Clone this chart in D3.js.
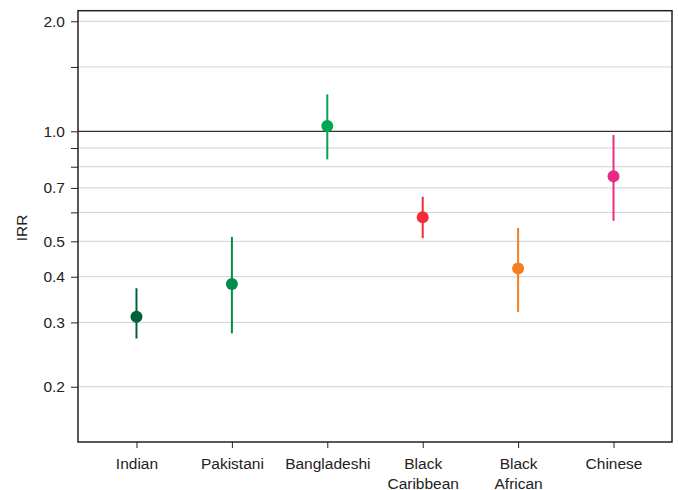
<!DOCTYPE html>
<html>
<head>
<meta charset="utf-8">
<script src="https://cdn.jsdelivr.net/npm/d3@7"></script>
<style>
  body { margin: 0; background: #fff; }
  svg { display: block; font-family: "Liberation Sans", Arial, sans-serif; }
</style>
</head>
<body>
<svg width="678" height="490"></svg>
<script>
const groups = ["Indian", "Pakistani", "Bangladeshi", "Black Caribbean", "Black African", "Chinese"];
const irr = [0.311, 0.382, 1.034, 0.582, 0.421, 0.753];
const lower = [0.271, 0.280, 0.838, 0.510, 0.320, 0.569];
const upper = [0.372, 0.514, 1.262, 0.662, 0.544, 0.977];
const colors = ["#00613a", "#008c4a", "#00a651", "#ee2e38", "#f47e20", "#ea2a84"];

const yTicks = [0.2, 0.3, 0.4, 0.5, 0.6, 0.7, 0.8, 0.9, 1.0, 1.5, 2.0];
const yLabelled = [0.2, 0.3, 0.4, 0.5, 0.7, 1.0, 2.0];

const plotLeft = 78, plotRight = 672, plotTop = 10.7, plotBottom = 442;
const fontSize = 15.5;

const svg = d3.select("svg");

const x = d3.scalePoint().domain(groups).range([plotLeft, plotRight]).padding(0.613);
const y = d3.scaleLog().domain([0.1412, 2.138]).range([plotBottom, plotTop]);

// grid lines
svg.append("g")
  .selectAll("line")
  .data(yTicks)
  .join("line")
  .attr("x1", plotLeft).attr("x2", plotRight)
  .attr("y1", d => y(d)).attr("y2", d => y(d))
  .attr("stroke", d => d === 1 ? "#333" : "#d2d2d2")
  .attr("stroke-width", d => d === 1 ? 1.3 : 1);

// y axis
const yAxis = d3.axisLeft(y)
  .tickValues(yTicks)
  .tickSize(7)
  .tickPadding(6)
  .tickFormat(d => yLabelled.includes(d) ? d3.format(".1f")(d) : "");
const yg = svg.append("g")
  .attr("transform", `translate(${plotLeft},0)`)
  .call(yAxis);
yg.select(".domain").remove();
yg.selectAll(".tick line").attr("stroke", "#222");
yg.selectAll(".tick text").attr("font-size", fontSize).attr("fill", "#222")
  .attr("font-family", "'Liberation Sans', Arial, sans-serif");

// x axis
const xAxis = d3.axisBottom(x).tickSize(6).tickFormat("");
const xg = svg.append("g")
  .attr("transform", `translate(0,${plotBottom})`)
  .call(xAxis);
xg.select(".domain").remove();
xg.selectAll(".tick line").attr("stroke", "#222");

xg.selectAll(".tick")
  .append("text")
  .attr("fill", "#222")
  .attr("font-size", fontSize)
  .attr("text-anchor", "middle")
  .attr("font-family", "'Liberation Sans', Arial, sans-serif")
  .each(function(d) {
    const words = d.split(" ");
    d3.select(this).selectAll("tspan")
      .data(words)
      .join("tspan")
      .attr("x", 0)
      .attr("y", (w, i) => 27 + i * 19.5)
      .text(w => w);
  });

// frame
svg.append("rect")
  .attr("x", plotLeft).attr("y", plotTop)
  .attr("width", plotRight - plotLeft).attr("height", plotBottom - plotTop)
  .attr("fill", "none")
  .attr("stroke", "#222")
  .attr("stroke-width", 1.5);

// y title
svg.append("text")
  .attr("transform", "translate(27,228) rotate(-90)")
  .attr("text-anchor", "middle")
  .attr("font-size", fontSize)
  .attr("fill", "#222")
  .text("IRR");

// error bars and points
const rows = groups.map((g, i) => ({g, v: irr[i], lo: lower[i], hi: upper[i], c: colors[i]}));

svg.append("g")
  .selectAll("line")
  .data(rows)
  .join("line")
  .attr("x1", d => x(d.g)).attr("x2", d => x(d.g))
  .attr("y1", d => y(d.lo)).attr("y2", d => y(d.hi))
  .attr("stroke", d => d.c)
  .attr("stroke-width", 2);

svg.append("g")
  .selectAll("circle")
  .data(rows)
  .join("circle")
  .attr("cx", d => x(d.g))
  .attr("cy", d => y(d.v))
  .attr("r", 6)
  .attr("fill", d => d.c);
</script>
</body>
</html>
